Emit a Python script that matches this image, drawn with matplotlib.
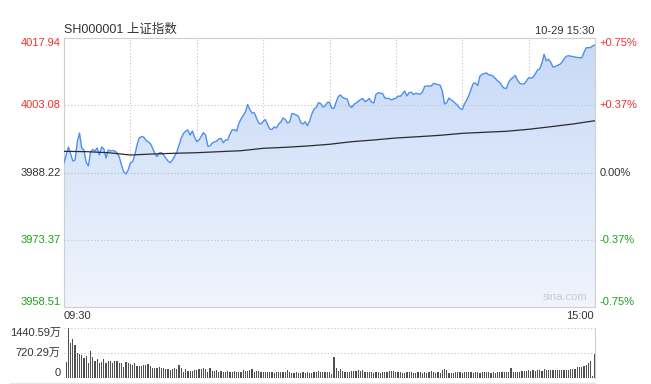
import numpy as np
import matplotlib
matplotlib.use("Agg")
import matplotlib.pyplot as plt
from matplotlib.transforms import blended_transform_factory

# minute-by-minute index level, 09:30 .. 15:00 (241 points)
price = [
    3990.39, 3992.09, 3993.86, 3992.31, 3990.77, 3990.99, 3994.96, 3996.95, 3993.64, 3993.20,
    3990.54, 3989.66, 3992.75, 3993.31, 3992.97, 3993.64, 3992.09, 3993.86, 3993.42, 3991.43,
    3993.20, 3992.97, 3993.09, 3992.97, 3992.53, 3991.65, 3989.88, 3988.34, 3987.89, 3988.78,
    3990.32, 3990.61, 3992.09, 3994.30, 3995.85, 3996.13, 3996.07, 3995.41, 3994.96, 3994.68,
    3993.64, 3992.53, 3991.76, 3992.53, 3992.64, 3992.09, 3991.43, 3990.77, 3990.39, 3990.99,
    3991.87, 3992.75, 3994.30, 3995.85, 3996.84, 3997.39, 3997.61, 3996.51, 3997.39, 3996.07,
    3995.07, 3995.41, 3996.18, 3997.02, 3996.51, 3994.08, 3994.08, 3994.74, 3994.96, 3995.18,
    3995.63, 3995.74, 3994.81, 3995.41, 3995.41, 3996.73, 3997.61, 3997.68, 3997.39, 3999.05,
    4000.04, 4000.82, 4001.59, 4003.25, 4002.14, 4001.37, 4001.41, 4000.27, 3999.16, 3998.94,
    3999.49, 3999.93, 3998.83, 3997.84, 3997.73, 3998.28, 3998.06, 3998.94, 3999.38, 4000.27,
    3999.93, 3999.16, 3999.38, 4001.26, 4001.15, 4000.93, 4000.60, 3999.27, 3998.94, 3999.43,
    3998.56, 3999.60, 4001.15, 4002.25, 4002.59, 4003.65, 4003.47, 4002.70, 4002.92, 4003.69,
    4003.74, 4002.41, 4002.41, 4003.80, 4005.02, 4005.35, 4004.79, 4004.57, 4004.46, 4003.03,
    4002.59, 4003.25, 4003.58, 4003.96, 4004.35, 4004.57, 4003.87, 4004.13, 4004.57, 4003.80,
    4003.58, 4005.46, 4005.86, 4005.74, 4005.68, 4004.68, 4004.61, 4004.57, 4004.24, 4004.51,
    4004.60, 4005.13, 4005.06, 4005.57, 4006.23, 4005.13, 4005.90, 4005.92, 4005.46, 4005.72,
    4005.61, 4005.50, 4006.01, 4007.22, 4007.34, 4007.34, 4007.34, 4007.89, 4007.78, 4007.65,
    4007.51, 4006.23, 4003.36, 4003.69, 4004.68, 4004.29, 4003.91, 4003.47, 4002.98, 4002.36,
    4002.14, 4003.36, 4004.24, 4005.24, 4006.67, 4007.93, 4008.00, 4007.45, 4009.54, 4009.94,
    4010.10, 4010.21, 4009.77, 4009.77, 4009.48, 4008.99, 4008.48, 4008.11, 4007.34, 4006.83,
    4006.83, 4008.22, 4008.88, 4009.21, 4009.66, 4008.59, 4007.91, 4007.78, 4007.82, 4008.44,
    4009.15, 4009.06, 4009.26, 4009.99, 4010.87, 4011.09, 4012.42, 4014.34, 4012.90, 4013.26,
    4012.57, 4011.53, 4011.62, 4011.89, 4012.09, 4012.53, 4013.30, 4013.90, 4014.03, 4013.92,
    4013.83, 4013.74, 4013.63, 4013.59, 4013.59, 4014.74, 4015.80, 4015.80, 4015.84, 4016.22,
    4016.39,
]

# average line, read every 10 minutes
avg_minutes = list(range(0, 241, 10))
avg_price = [3992.90, 3992.83, 3992.60, 3992.09, 3992.31, 3992.47, 3992.60, 3992.82, 3993.04,
             3993.57, 3993.79, 3994.08, 3994.46, 3995.03, 3995.41, 3995.85, 3996.13, 3996.44,
             3996.88, 3997.11, 3997.33, 3997.77, 3998.34, 3998.94, 3999.67]

# volume per minute (万), minutes 1..240
volume = [
    460, 1440, 1013, 1120, 946, 704, 684, 655, 559, 634, 413, 771, 605, 489, 538, 431, 460, 538, 431, 480,
    489, 413, 489, 489, 431, 431, 314, 451, 413, 393, 364, 413, 335, 345, 345, 364, 364, 383, 345, 285,
    285, 285, 297, 285, 275, 256, 256, 218, 256, 285, 247, 364, 290, 169, 247, 189, 180, 180, 218, 218,
    247, 247, 290, 252, 169, 266, 189, 189, 218, 169, 180, 169, 169, 175, 160, 169, 175, 160, 169, 169,
    218, 189, 175, 218, 247, 169, 180, 189, 169, 169, 150, 150, 150, 150, 122, 169, 169, 169, 150, 169,
    218, 169, 140, 140, 150, 140, 140, 150, 140, 150, 140, 140, 169, 169, 180, 169, 169, 150, 169, 150,
    102, 597, 290, 200, 250, 180, 160, 160, 170, 175, 190, 200, 230, 180, 210, 160, 155, 170, 150, 145,
    160, 150, 145, 155, 165, 150, 190, 180, 200, 160, 155, 150, 140, 145, 170, 160, 150, 140, 140, 150,
    170, 145, 150, 140, 150, 175, 155, 145, 155, 130, 204, 253, 204, 145, 145, 145, 150, 150, 155, 145,
    150, 150, 155, 155, 145, 150, 155, 145, 150, 150, 150, 155, 145, 150, 145, 150, 150, 160, 150, 155,
    150, 273, 155, 155, 155, 160, 175, 175, 190, 204, 190, 204, 190, 204, 204, 190, 253, 204, 204, 204,
    210, 204, 204, 210, 223, 223, 223, 230, 240, 250, 260, 320, 300, 300, 340, 365, 428, 485, 30, 690,
]

prev_close = 3988.22
levels = [3958.51, 3973.37, 3988.22, 4003.08, 4017.94]
pct_labels = ["-0.75%", "-0.37%", "0.00%", "+0.37%", "+0.75%"]
vol_max = 1440.59
vol_labels = ["0", "720.29万", "1440.59万"]

RED = "#f0302c"
GREEN = "#1aa31a"
DARK = "#333333"
GRID = "#c4c4c4"
FONT = ["Liberation Sans", "Noto Sans CJK SC"]

minutes = np.arange(len(price))
vol_minutes = np.arange(1, len(volume) + 1)

fig = plt.figure(figsize=(6.51, 3.84), dpi=100)
ax = fig.add_axes([64 / 651, 1 - 307 / 384, 531 / 651, 269 / 384])
axv = fig.add_axes([64 / 651, 1 - 377.5 / 384, 531 / 651, 49.5 / 384])

# --- price panel
ax.set_xlim(0, 240)
ax.set_ylim(levels[0], levels[-1])

ax.plot(minutes, price, color="#4f8ef2", lw=1.0, zorder=4)
poly = ax.fill_between(minutes, price, levels[0], color="none", lw=0)
grad = np.linspace(0, 1, 256).reshape(-1, 1)
top_c = np.array([0.78, 0.85, 0.97])
bot_c = np.array([0.94, 0.96, 0.99])
img = top_c * (1 - grad[..., None]) + bot_c * grad[..., None]
im = ax.imshow(img, extent=[0, 240, levels[0], levels[-1]], origin="upper",
               aspect="auto", zorder=2)
im.set_clip_path(poly.get_paths()[0], transform=ax.transData)
ax.plot(avg_minutes, avg_price, color="#2b2b2b", lw=0.9, zorder=5)

for m in range(30, 240, 30):
    ax.axvline(m, color=GRID, lw=0.8, ls=(0, (1, 2)), zorder=1)
for lv in levels[1:-1]:
    ax.axhline(lv, color="#b8b8b8" if lv == prev_close else GRID, lw=0.8,
               ls=(0, (1, 2)), zorder=3)

ax.set_xticks([])
ax.set_yticks([])
for s in ax.spines.values():
    s.set_color("#cfcfcf")
    s.set_linewidth(0.8)

tr = blended_transform_factory(ax.transAxes, ax.transData)
for i, lv in enumerate(levels):
    col = RED if lv > prev_close else (GREEN if lv < prev_close else DARK)
    va = "top" if i == len(levels) - 1 else ("bottom" if i == 0 else "center")
    ax.text(-0.006, lv, f"{lv:.2f}", transform=tr, ha="right", va=va,
            color=col, fontsize=8, family=FONT)
    ax.text(1.009, lv, pct_labels[i], transform=tr, ha="left", va=va,
            color=col, fontsize=8, family=FONT)

fig.text(64 / 651, 1 - 30 / 384, "SH000001 上证指数", ha="left", va="center",
         fontsize=9, color=DARK, family=FONT)
fig.text(594 / 651, 1 - 31 / 384, "10-29 15:30", ha="right", va="center",
         fontsize=8, color=DARK, family=FONT)
fig.text(64 / 651, 1 - 316 / 384, "09:30", ha="left", va="center",
         fontsize=8, color=DARK, family=FONT)
fig.text(594 / 651, 1 - 316 / 384, "15:00", ha="right", va="center",
         fontsize=8, color=DARK, family=FONT)
ax.text(0.985, 0.018, "sina.com", transform=ax.transAxes, ha="right", va="bottom",
        fontsize=8, color="#cccccc", family=FONT)

# --- volume panel
axv.set_xlim(0, 240)
axv.set_ylim(0, vol_max)
axv.bar(vol_minutes, volume, width=0.55, color="#505050", lw=0, zorder=3)
axv.axhline(vol_max, color=GRID, lw=0.8, ls=(0, (1, 2)))
axv.axhline(vol_max / 2, color=GRID, lw=0.8, ls=(0, (1, 2)))
axv.set_xticks([])
axv.set_yticks([])
for k in ["top", "left", "bottom"]:
    axv.spines[k].set_visible(False)
axv.spines["right"].set_color("#cfcfcf")
axv.spines["right"].set_linewidth(0.8)

trv = blended_transform_factory(axv.transAxes, axv.transData)
for v, txt, va in zip([0, vol_max / 2, vol_max], vol_labels, ["bottom", "center", "top"]):
    axv.text(-0.006, v, txt, transform=trv, ha="right", va=va,
             fontsize=8, color=DARK, family=FONT)

fig.add_artist(plt.Line2D([10 / 651, 595 / 651], [1 - 382.5 / 384] * 2,
                          color="#e6e6e6", lw=1, transform=fig.transFigure))

fig.savefig("out.png", dpi=100, facecolor="white")
